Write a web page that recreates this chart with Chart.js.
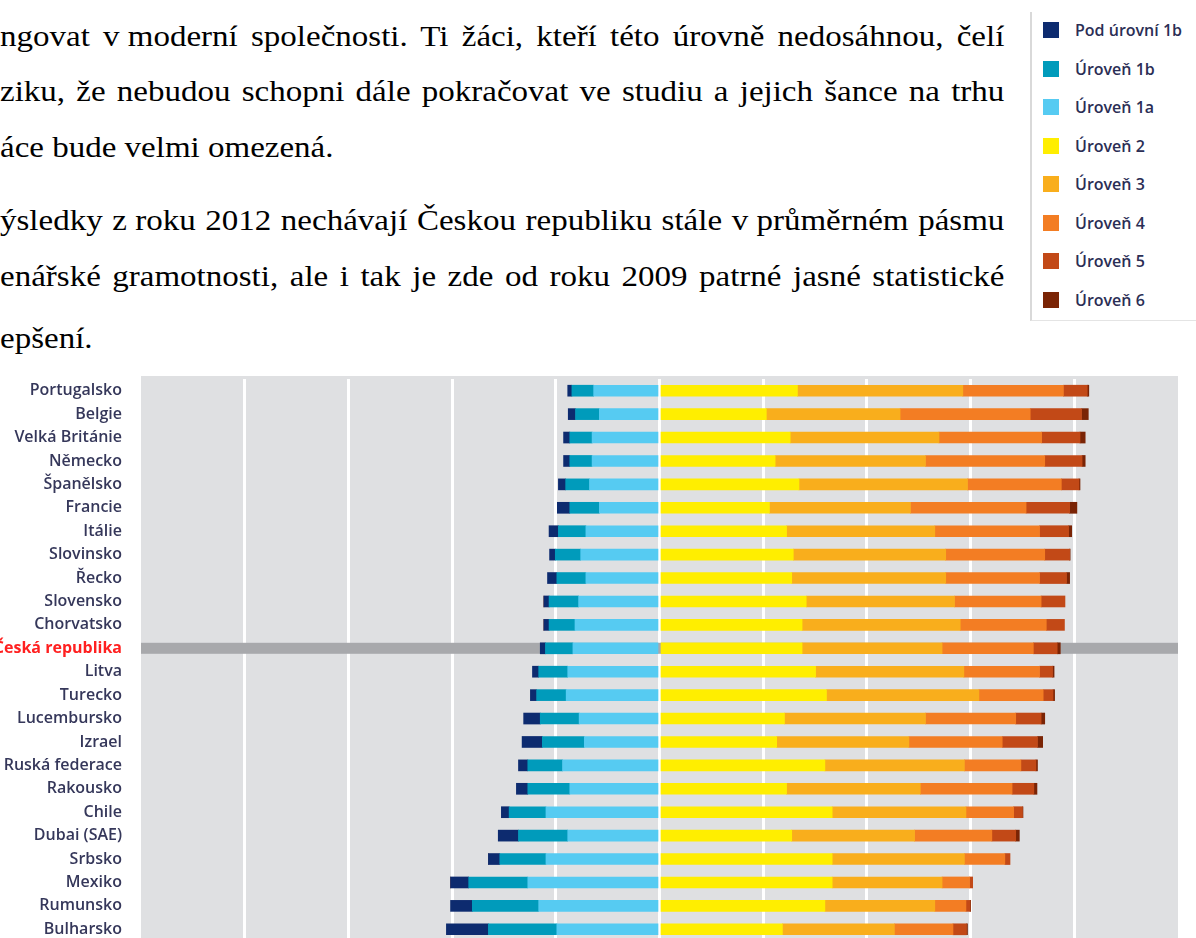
<!DOCTYPE html>
<html lang="cs">
<head>
<meta charset="utf-8">
<script src="https://cdn.jsdelivr.net/npm/chart.js@4.4.0/dist/chart.umd.min.js"></script>
<style>
body{margin:0;width:1196px;height:938px;overflow:hidden;background:#fff;position:relative}
.ln{position:absolute;left:0;font:30px "Liberation Serif","Times New Roman",serif;line-height:30px;color:#000;white-space:nowrap;transform:scaleX(1.1);transform-origin:0 0}
.j{width:913px;text-align:justify;text-align-last:justify}
.nb{display:inline-block}
#legend{position:absolute;left:1030px;top:12px;width:166px;height:308px;border-left:2px solid #d9d9d9;border-bottom:1px solid #e4e4e4}
.item{position:absolute;left:11px;height:20px;width:155px;font:600 16px "Open Sans",sans-serif;color:#2b2e55;line-height:20px}
.sw{position:absolute;left:0;top:2px;width:16px;height:16px}
.item span{position:absolute;left:32px;white-space:nowrap}
#wrap{position:absolute;left:0;top:360px;width:1196px;height:590px}
</style>
</head>
<body>
<div class="ln j" style="top:21px">ngovat <span class="nb">v moderní</span> společnosti. Ti žáci, kteří této úrovně nedosáhnou, čelí</div>
<div class="ln j" style="top:76px">ziku, že nebudou schopni dále pokračovat ve studiu a jejich šance na trhu</div>
<div class="ln" style="top:132px">áce bude velmi omezená.</div>
<div class="ln j" style="top:205px">ýsledky <span class="nb">z roku</span> 2012 nechávají Českou republiku stále <span class="nb">v průměrném</span> pásmu</div>
<div class="ln j" style="top:261px">enářské gramotnosti, ale i tak je zde od roku 2009 patrné jasné statistické</div>
<div class="ln" style="top:323px">epšení.</div>

<div id="legend"></div>
<div id="wrap"><canvas id="myChart"></canvas></div>

<script>
// countries top to bottom
const countries = ['Portugalsko','Belgie','Velká Británie','Německo','Španělsko','Francie','Itálie',
    'Slovinsko','Řecko','Slovensko','Chorvatsko','Česká republika','Litva','Turecko','Lucembursko',
    'Izrael','Ruská federace','Rakousko','Chile','Dubai (SAE)','Srbsko','Mexiko','Rumunsko','Bulharsko'];
const highlight = 'Česká republika';

const level_names = ['Pod úrovní 1b','Úroveň 1b','Úroveň 1a','Úroveň 2','Úroveň 3','Úroveň 4','Úroveň 5','Úroveň 6'];
const level_colors = ['#0d2b6f','#009bbb','#56cbf2','#ffee00','#f9ae1c','#f37d23','#c24917','#7a2405'];

// share of students (%), left of zero
const below_1b = [0.8,1.4,1.2,1.2,1.4,2.4,1.8,1.1,1.8,1.0,1.0,1.0,1.2,1.2,3.2,3.9,1.8,2.2,1.5,3.9,2.2,3.5,4.2,8.1];
const level_1b = [4.2,4.6,4.3,4.3,4.6,5.7,5.3,4.9,5.6,5.7,5.0,5.3,5.6,5.7,7.5,8.1,6.7,8.1,7.1,9.5,8.9,11.4,12.8,13.2];
const level_1a = [12.7,11.6,13.0,13.0,13.5,11.6,14.2,15.2,14.2,15.6,16.3,16.7,17.7,18.0,15.5,14.5,18.7,17.3,21.9,17.7,21.9,25.4,23.3,19.8];
// right of zero
const level_2 = [26.6,20.6,25.2,22.3,26.9,21.2,24.5,25.8,25.5,28.3,27.5,27.5,30.1,32.2,24.1,22.6,31.9,24.5,33.3,25.5,33.3,33.3,31.9,23.7];
const level_3 = [31.9,25.8,28.7,29.0,32.5,27.2,28.6,29.4,29.7,28.6,30.5,27.0,28.6,29.4,27.2,25.5,26.9,25.8,25.8,23.7,25.5,21.2,21.2,21.6];
const level_4 = [19.4,25.1,19.8,23.0,18.1,22.3,20.2,19.1,18.1,16.7,16.6,17.6,14.6,12.4,17.4,18.0,10.9,17.7,9.2,14.9,7.8,5.3,6.0,11.3];
const level_5 = [4.6,9.9,7.4,7.2,3.4,8.4,5.6,4.8,5.2,4.6,3.5,4.6,2.5,1.9,4.9,6.8,2.9,4.2,1.7,4.6,1.0,0.6,0.8,2.6];
const level_6 = [0.3,1.3,1.0,0.6,0.2,1.4,0.6,0.1,0.6,0.0,0.0,0.6,0.3,0.3,0.7,1.0,0.3,0.6,0.1,0.7,0.0,0.0,0.1,0.2];

// legend box on the top right
const legend_div = document.getElementById('legend');
level_names.forEach(function(name, i){
    const item = document.createElement('div');
    item.className = 'item';
    item.style.top = (8 + i * 38.5) + 'px';
    item.innerHTML = '<div class="sw" style="background:' + level_colors[i] + '"></div><span>' + name + '</span>';
    legend_div.appendChild(item);
});

function make_set(index, values, negative){
    return {
        label: level_names[index],
        data: values.map(function(v){ return negative ? -v : v; }),
        backgroundColor: level_colors[index],
        borderWidth: 0,
        barThickness: 11
    };
}

// lower levels stack leftwards from zero, so 1a goes first
const datasets_array = [
    make_set(2, level_1a, true),
    make_set(1, level_1b, true),
    make_set(0, below_1b, true),
    make_set(3, level_2, false),
    make_set(4, level_3, false),
    make_set(5, level_4, false),
    make_set(6, level_5, false),
    make_set(7, level_6, false)
];

const plot_background = {
    id: 'plot_background',
    beforeDraw(chart){
        const a = chart.chartArea, ctx = chart.ctx;
        ctx.save();
        ctx.fillStyle = '#dfe0e2';
        ctx.fillRect(a.left, a.top - 3, a.right - a.left, a.bottom - a.top + 3);
        ctx.restore();
    },
    beforeDatasetsDraw(chart){
        const a = chart.chartArea, ctx = chart.ctx;
        const py = chart.scales.y.getPixelForValue(countries.indexOf(highlight));
        ctx.save();
        ctx.fillStyle = '#a8a9ac';
        ctx.fillRect(a.left, py - 5.5, a.right - a.left, 11);
        ctx.restore();
    }
};

const ctx = document.getElementById('myChart').getContext('2d');
const myChart = new Chart(ctx, {
    type: 'bar',
    data: {
        labels: countries,
        datasets: datasets_array
    },
    plugins: [plot_background],
    options: {
        indexAxis: 'y',
        responsive: true,
        maintainAspectRatio: false,
        animation: false,
        layout: {
            padding: {top: 19, right: 18, bottom: 9, left: 0}
        },
        plugins: {
            legend: {display: false},
            tooltip: {enabled: false}
        },
        scales: {
            x: {
                stacked: true,
                min: -100,
                max: 100,
                ticks: {display: false, stepSize: 20},
                border: {display: false},
                grid: {
                    drawTicks: false,
                    lineWidth: 3,
                    color: function(c){
                        return (c.tick && Math.abs(c.tick.value) === 100) ? 'rgba(0,0,0,0)' : '#ffffff';
                    }
                },
                afterFit: function(scale){ scale.height = 0; }
            },
            y: {
                stacked: true,
                border: {display: false},
                grid: {display: false, drawTicks: false},
                ticks: {
                    padding: 19,
                    font: function(c){
                        const bold = countries[c.index] === highlight;
                        return {family: '"Open Sans", sans-serif', size: 16, weight: bold ? 'bold' : '600'};
                    },
                    color: function(c){
                        return countries[c.index] === highlight ? '#ff2020' : '#35375a';
                    }
                },
                afterFit: function(scale){
                    scale.width = 141;
                    scale.paddingTop = 0;
                    scale.paddingBottom = 0;
                }
            }
        }
    }
});
</script>
</body>
</html>
